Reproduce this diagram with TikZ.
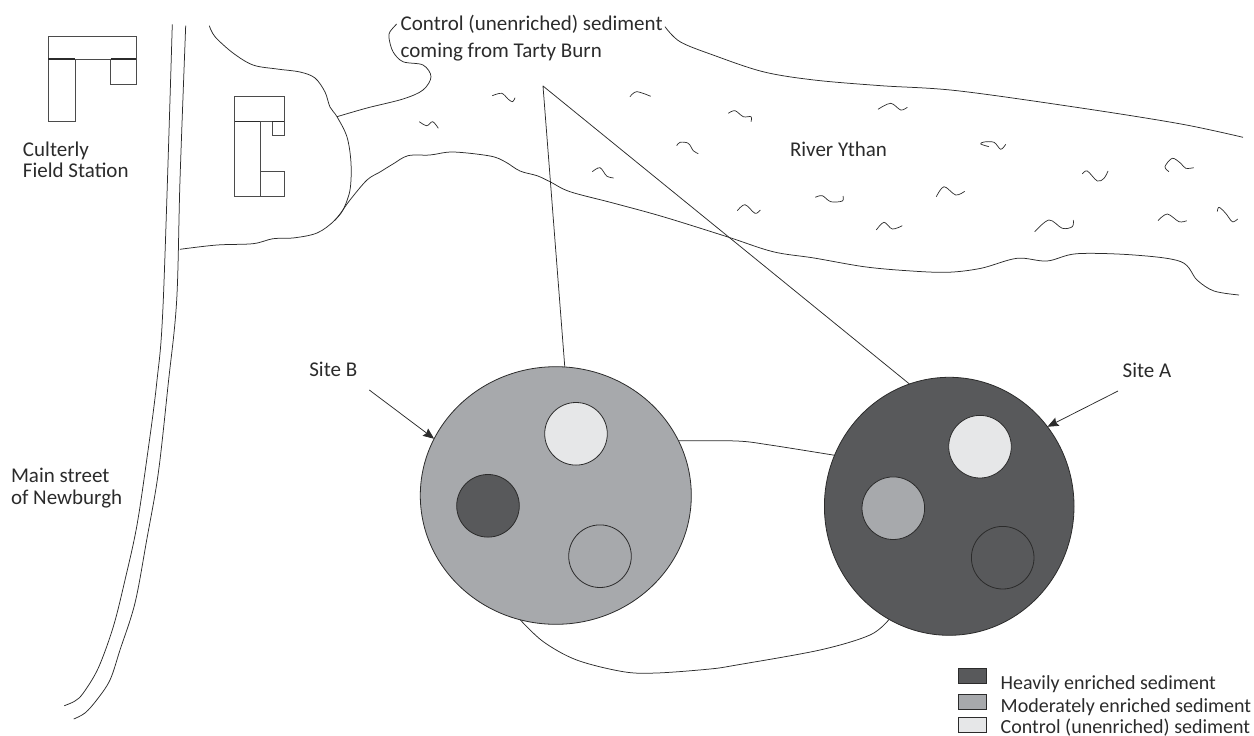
\documentclass[tikz,border=0pt]{standalone}
\usepackage{fontspec}
\setmainfont{Carlito}
\usetikzlibrary{shapes.geometric,arrows.meta}
\definecolor{heavy}{HTML}{58595B}
\definecolor{moderate}{HTML}{A7A9AC}
\definecolor{control}{HTML}{E6E7E8}
\definecolor{ink}{HTML}{2B2B2B}
\tikzset{
  thin line/.style={draw=ink,line width=0.75pt,line join=round},
  curve/.style={thin line,smooth,tension=0.55},
  building/.style={draw=ink!85,line width=1pt,fill=none},
  heavy edge/.style={draw=ink,line width=1.3pt},
  site/.style={ellipse,draw=ink,line width=0.8pt,inner sep=0pt,outer sep=0pt},
  patch/.style={circle,draw=ink,line width=0.8pt,inner sep=0pt,outer sep=0pt,minimum size=62.6pt},
  label/.style={anchor=base west,inner sep=0pt,outer sep=0pt,text=ink,align=left,font=\fontsize{21}{21.7}\selectfont},
  legend text/.style={label,font=\fontsize{20}{21}\selectfont},
  key/.style={draw=ink,line width=0.7pt,rectangle,inner sep=0pt,outer sep=0pt,minimum width=27.3pt,minimum height=15pt,anchor=north west},
  squiggle/.style={curve,line width=0.7pt},
  pointer/.style={thin line,-{Stealth[length=11pt,width=9pt,inset=1.5pt]}}
}
\begin{document}
\begin{tikzpicture}[x=1pt,y=-1pt]
\useasboundingbox (0,0) rectangle (1254,736);

% road
\draw[curve] plot coordinates {(172.3,24.3) (163.3,300) (156.7,383) (146.7,460) (136.7,526.7) (125,580) (113.3,626.7) (98.3,668) (83.3,693) (75,701) (64.3,705.7)};
\draw[curve] plot coordinates {(185.7,25.7) (180,180) (176.7,300) (168.3,383) (158.3,473) (146.7,540) (135,603) (120,650) (110,680) (96.7,700) (85,713) (73.7,719)};

% buildings
\draw[building] (48.3,36.3) rectangle (136.3,59);
\draw[building] (48.3,59) rectangle (75,121.7);
\draw[building] (110.7,59) rectangle (136.3,84.3);
\draw[building] (75,59) -- (110.7,59);
\draw[heavy edge] (48.3,59) -- (75,59) (110.7,59) -- (136.3,59);
\draw[building] (234.7,96.7) rectangle (284.3,121.7);
\draw[building] (234.7,121.7) rectangle (260.3,196.3);
\draw[building] (272.3,121.7) rectangle (284.3,135);
\draw[building] (260.3,171) rectangle (284.3,196.3);
\draw[heavy edge] (234.7,121.7) -- (260.3,121.7) (272.3,121.7) -- (284.3,121.7);

% river banks and shore
\draw[curve] plot coordinates {(209.3,25.7) (215,36.7) (233,53) (253,65) (277,69) (300,72) (315,78) (325,92) (330,107) (337,116.7) (347,137) (351,163) (350,190) (343,210) (335,220)};
\draw[curve] plot coordinates {(180,249.3) (217,245) (253,243.7) (273,238.7) (293,238) (317,233) (335,220) (350,200) (367,180) (380,172) (393,164) (408,155.7) (430,155) (453,152) (490,156) (505,161.7) (520,171) (537,175.7) (550,181.7) (570,191.7) (613,203) (663,216.7) (727,236.7) (773,251.7) (814,258) (864,266.7) (907,270.7) (947,272.3) (981,268.3) (1017,258.3) (1047,261) (1077,253.7) (1134,255) (1181,261.7) (1197,280) (1214,291) (1239,295)};
\draw[curve] plot coordinates {(337,116.7) (367,108) (403,99) (423,90) (431,76.7) (423,65) (403,61.7) (393,51.7) (389,38) (390,31.7) (396.7,24)};
\draw[curve] plot coordinates {(665,26.7) (680,41.7) (713,55) (763,71.7) (814,80) (881,85.7) (957,90.7) (1081,108) (1181,124) (1243,137.3)};

% water ripples
\foreach \pts in {
 {(419.3,121.7) (426.7,125.7) (432.7,121.7) (438.3,128.3)},
 {(492.3,95.7) (501.7,93.3) (508.3,99.3) (512.7,101.7) (515,97.7)},
 {(630,96.7) (636.7,91.7) (650.7,96.3)},
 {(728.3,113.3) (735,110.7) (743.3,116.7) (751,116.7) (751,121.7)},
 {(676.7,145.7) (680,142.3) (688.3,143.3) (693.3,150.7) (698.3,153.7)},
 {(592.3,171.7) (600,167.7) (606.7,176) (613.7,178)},
 {(737.3,210.7) (745,204.7) (755,213.3) (760.3,210)},
 {(878,109.3) (890.7,103.3) (900.7,110) (907.3,107.3)},
 {(989,146.7) (980.7,144) (984,142) (994,142.3) (1000.7,149.3) (1005.7,144.3)},
 {(1082.3,174) (1087.3,171) (1097.3,181) (1104,178.3) (1108,171)},
 {(1169,171.7) (1165,166.7) (1172.3,158.3) (1180.7,163.3) (1185.7,168.3) (1193.7,167.7)},
 {(1217.3,211.7) (1219,207.3) (1225.7,213.3) (1232.3,221.7) (1237.7,219)},
 {(1158,220.7) (1167.3,214) (1179,221.7) (1186.7,220.7)},
 {(1034.7,231.7) (1049,220) (1062.3,228.3) (1072.3,226.7) (1073.3,220)},
 {(936.3,196.7) (944,186.7) (955.7,195) (964.7,191.3)},
 {(815.3,197.3) (822.3,195.7) (830.7,201.7) (842.3,201) (843,196)},
 {(876.3,230) (884,222.3) (892.3,229) (902.3,225.7)}}
 {\draw[squiggle] plot coordinates \pts;}

% sites
\node[site,fill=moderate,minimum width=271pt,minimum height=257.6pt] (siteB) at (555.8,495.5) {};
\node[site,fill=heavy,minimum width=249.6pt,minimum height=258pt] (siteA) at (949.2,506.3) {};
\node[patch,fill=control] (bControl) at (576,433.8) {};
\node[patch,fill=heavy] (bHeavy) at (488,505.8) {};
\node[patch,fill=moderate] (bModerate) at (600,556.2) {};
\node[patch,fill=control] (aControl) at (980,446.7) {};
\node[patch,fill=moderate] (aModerate) at (893.3,508.2) {};
\node[patch,fill=heavy] (aHeavy) at (1002.7,557.7) {};

% inset lines and connections between sites
\coordinate (apex) at (543,86);
\draw[thin line] (siteB.86) -- (apex) -- (siteA.108.7);
\draw[curve] plot coordinates {(siteB.24.2) (736.7,441) (770,445) (siteA.156.8)};
\draw[curve] plot coordinates {(siteB.254.8) (543.3,641.7) (576.7,660) (623.3,671.7) (656.7,673) (710,669) (736.7,665) (820,650) (870,635) (siteA.242.7)};

% labels
\node[label] (culterly) at (23,177.7) {Culterly\\Field Station};
\node[label] (main) at (11,504) {Main street\\of Newburgh};
\node[label] (tarty) at (400.7,30.7) {Control (unenriched) sediment};
\node[label] (tarty2) at (400.7,57.3) {coming from Tarty Burn};
\node[label] (ythan) at (790,156) {River Ythan};
\node[label] (labelB) at (309.3,376.7) {Site B};
\node[label] (labelA) at (1122.7,377.7) {Site A};

% pointers
\coordinate (fromB) at (369.3,390);
\coordinate (fromA) at (1118,391);
\draw[pointer] (fromB) -- (siteB.155);
\draw[pointer] (fromA) -- (siteA.39.4);

% legend
\node[key,fill=heavy] (keyHeavy) at (958.7,668.3) {};
\node[key,fill=moderate] (keyModerate) at (958.7,694) {};
\node[key,fill=control] (keyControl) at (958.7,717.7) {};
\node[legend text] (textHeavy) at (1000.7,689.3) {Heavily enriched sediment};
\node[legend text] (textModerate) at (1000.7,712) {Moderately enriched sediment};
\node[legend text] (textControl) at (1000.7,733) {Control (unenriched) sediment};
\end{tikzpicture}
\end{document}
